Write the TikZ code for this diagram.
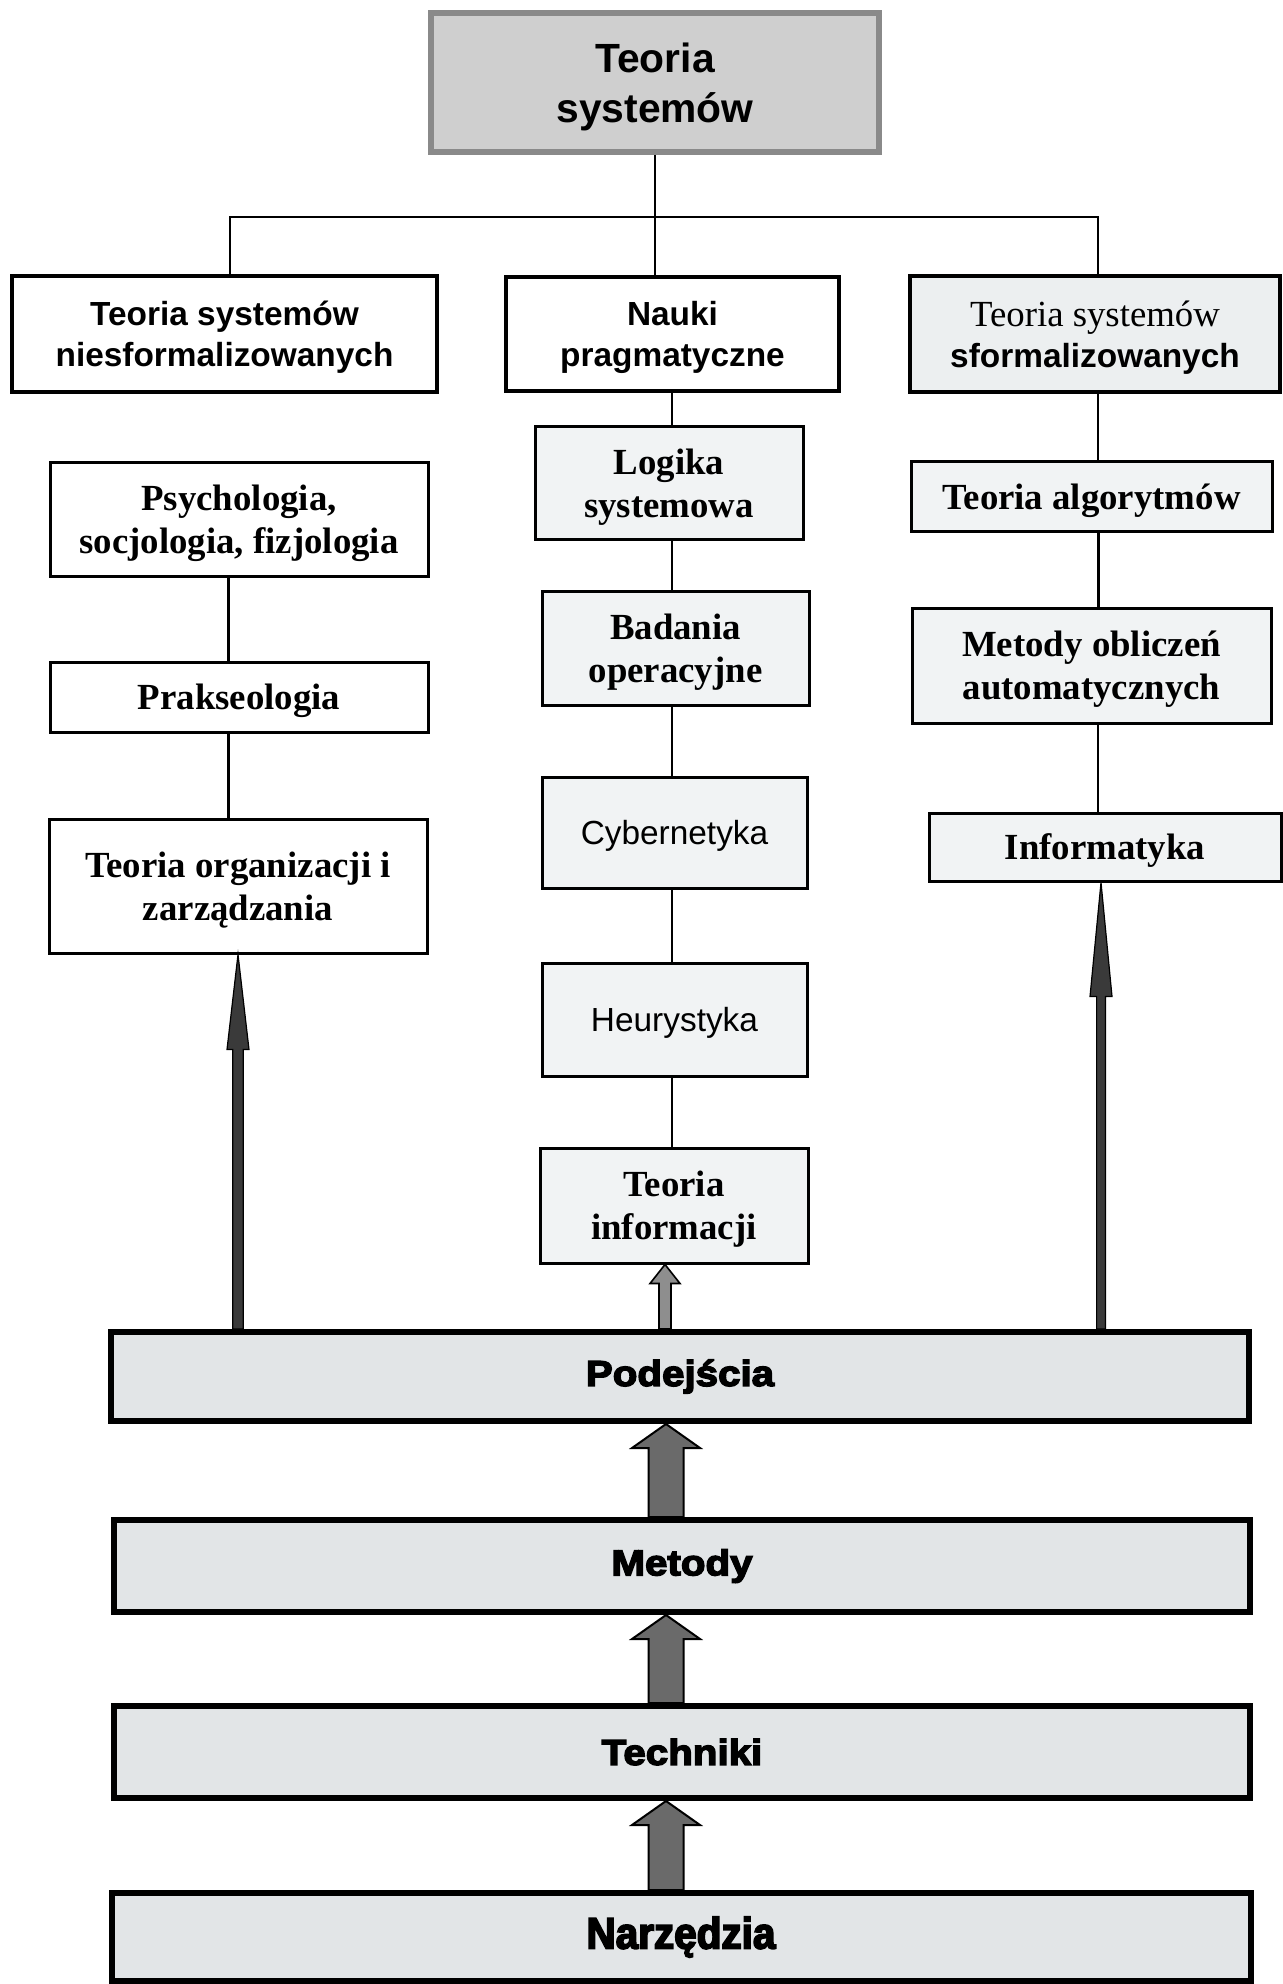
\documentclass[tikz,border=0pt]{standalone}
\usepackage{fontspec}
\usepackage{graphicx}
\setmainfont{Liberation Serif}
\setsansfont{Liberation Sans}
\newfontfamily\barfont[FakeBold=4,FakeStretch=1.12]{Liberation Sans Bold}
\newfontfamily\toolfont[FakeBold=4,FakeStretch=0.92]{Liberation Sans Bold}
\usetikzlibrary{calc}

\definecolor{topfill}{HTML}{CFCFCF}
\definecolor{topline}{HTML}{8A8A8A}
\definecolor{pale}{HTML}{F1F3F4}
\definecolor{palehdr}{HTML}{ECEFF0}
\definecolor{barfill}{HTML}{E2E5E7}
\definecolor{darkarrow}{HTML}{3A3A3A}
\definecolor{midarrow}{HTML}{8E8E8E}
\definecolor{bararrow}{HTML}{6A6A6A}

% block arrow from a base point (#1) up to a tip point (#2):
% #3 shaft half width, #4 head half width, #5 head length, #6 style
\newcommand\blockarrow[6]{%
  \draw[#6] let \p1=(#1), \p2=(#2) in
    (\x2-#3,\y1) -- (\x2-#3,\y2-#5) -- (\x2-#4,\y2-#5) -- (\x2,\y2)
    -- (\x2+#4,\y2-#5) -- (\x2+#3,\y2-#5) -- (\x2+#3,\y1) -- cycle;}

\tikzset{
  every node/.style={inner sep=0pt},
  rootbox/.style={draw=topline, line width=3pt, fill=topfill, align=center, text depth=0pt,
    font=\fontsize{20.4}{25}\selectfont\sffamily\bfseries},
  hdr/.style={draw=black, line width=2.25pt, fill=white, align=center, text depth=0pt,
    font=\fontsize{16.7}{20.5}\selectfont\sffamily\bfseries},
  item/.style={draw=black, line width=1.5pt, fill=pale, align=center, text depth=0pt,
    font=\fontsize{18.4}{21.5}\selectfont\bfseries},
  itemsans/.style={item, font=\fontsize{16.7}{20.5}\selectfont\sffamily},
  bar/.style={draw=black, line width=3pt, fill=barfill,
    minimum width=568pt, minimum height=45pt,
    font=\fontsize{18}{22}\selectfont\barfont},
  link/.style={line width=1pt},
  thicklink/.style={line width=1.5pt},
  slim/.style={fill=darkarrow, draw=black, line width=0.6pt},
  small/.style={fill=midarrow, draw=black, line width=0.8pt},
  fat/.style={fill=bararrow, draw=black, line width=1pt}
}

\begin{document}
\begin{tikzpicture}[x=0.5pt, y=-0.5pt]
  \useasboundingbox (0,0) rectangle (1282,1984);
  \fill[white] (0,0) rectangle (1282,1984);

  % root
  \node[rootbox, minimum width=224pt, minimum height=69.5pt] (top) at (655,82.5) {Teoria\\systemów};

  % first level
  \node[hdr, minimum width=212.5pt, minimum height=58pt] (L1) at (224.5,334) {Teoria systemów\\niesformalizowanych};
  \node[hdr, minimum width=166.5pt, minimum height=57pt] (M1) at (672.5,334) {Nauki\\pragmatyczne};
  \node[hdr, fill=palehdr, minimum width=185pt, minimum height=58pt] (R1) at (1095,334)
    {{\fontsize{18.4}{20.5}\selectfont\rmfamily\mdseries Teoria systemów}\\sformalizowanych};

  % left column
  \node[item, fill=white, minimum width=189pt, minimum height=56.5pt] (L2) at (239,519.5) {Psychologia,\\socjologia, fizjologia};
  \node[item, fill=white, minimum width=189pt, minimum height=35pt] (L3) at (239,697) {Prakseologia};
  \node[item, fill=white, minimum width=189pt, minimum height=67pt] (L4) at (238,886) {Teoria organizacji i\\zarządzania};

  % middle column
  \node[item, minimum width=134pt, minimum height=56pt] (M2) at (669,483) {Logika\\systemowa};
  \node[item, minimum width=133.5pt, minimum height=57pt] (M3) at (675.5,648) {Badania\\operacyjne};
  \node[itemsans, minimum width=132.5pt, minimum height=55.5pt] (M4) at (674.5,832.5) {Cybernetyka};
  \node[itemsans, minimum width=132.5pt, minimum height=56.5pt] (M5) at (674.5,1019.5) {Heurystyka};
  \node[item, minimum width=134pt, minimum height=57.5pt] (M6) at (674,1205.5) {Teoria\\informacji};

  % right column
  \node[item, minimum width=180.5pt, minimum height=34.5pt] (R2) at (1091.5,496.5) {Teoria algorytmów};
  \node[item, minimum width=179.5pt, minimum height=57.5pt] (R3) at (1091.5,665.5) {Metody obliczeń\\automatycznych};
  \node[item, minimum width=176pt, minimum height=34pt] (R4) at (1105,847) {Informatyka};

  % levels
  \node[bar, minimum width=569pt, minimum height=44.5pt] (Pod) at (680,1376.5) {Podejścia};
  \node[bar, minimum height=46pt] (Met) at (682,1566) {Metody};
  \node[bar, minimum height=46pt] (Tech) at (682,1752) {Techniki};
  \node[bar, minimum width=569.5pt, minimum height=44pt,
        font=\fontsize{22}{26}\selectfont\toolfont] (Narz) at (681,1937) {Narzędzia};

  % tree connectors
  \coordinate (hub) at (655,217);
  \coordinate (lx) at (228,0);
  \coordinate (mx) at (672,0);
  \coordinate (rx) at (1098,0);
  \draw[link] (top.south) -- (top.south |- M1.north);
  \draw[link] ($(L1.north)+(5.5,0)$) |- (hub) -| ($(R1.north)+(3,0)$);

  \draw[link] ($(L1.south)+(5.5,0)$) -- ($(L1.south)+(5.5,0)$ |- L2.north);
  \draw[thicklink] (L2.south -| lx) -- (L3.north -| lx);
  \draw[thicklink] (L3.south -| lx) -- (L4.north -| lx);

  \draw[link] (M1.south -| mx) -- (M2.north -| mx);
  \draw[link] (M2.south -| mx) -- (M3.north -| mx);
  \draw[link] (M3.south -| mx) -- (M4.north -| mx);
  \draw[link] (M4.south -| mx) -- (M5.north -| mx);
  \draw[link] (M5.south -| mx) -- (M6.north -| mx);

  \draw[link] (R1.south -| rx) -- (R2.north -| rx);
  \draw[thicklink] (R2.south -| rx) -- (R3.north -| rx);
  \draw[link] (R3.south -| rx) -- (R4.north -| rx);

  % arrows from the approaches bar up to the branches
  \coordinate (la) at (238,0);
  \coordinate (ma) at (665,0);
  \coordinate (ra) at (1101,0);
  \blockarrow{Pod.north -| la}{L4.south -| la}{2.6pt}{5.5pt}{47.5pt}{slim}
  \blockarrow{Pod.north -| ma}{M6.south -| ma}{3pt}{7.5pt}{9.5pt}{small}
  \blockarrow{Pod.north -| ra}{R4.south -| ra}{2.2pt}{5.5pt}{57pt}{slim}

  % arrows between the levels
  \coordinate (ba) at (666,0);
  \blockarrow{Met.north -| ba}{Pod.south -| ba}{8.75pt}{17pt}{12pt}{fat}
  \blockarrow{Tech.north -| ba}{Met.south -| ba}{8.75pt}{17pt}{12pt}{fat}
  \blockarrow{Narz.north -| ba}{Tech.south -| ba}{8.75pt}{17pt}{12pt}{fat}
\end{tikzpicture}
\end{document}
